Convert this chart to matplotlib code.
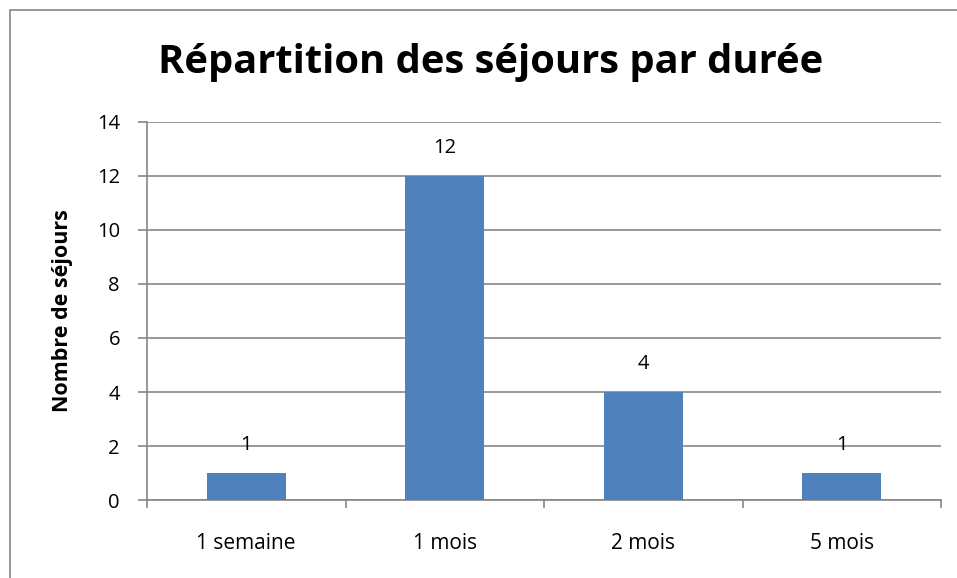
import matplotlib
matplotlib.use("Agg")
import matplotlib.pyplot as plt
from matplotlib.patches import Rectangle

plt.rcParams['font.family'] = ['Open Sans', 'DejaVu Sans']

# Data
durees = ['1 semaine', '1 mois', '2 mois', '5 mois']
sejours = [1, 12, 4, 1]
yticks = [0, 2, 4, 6, 8, 10, 12, 14]

bar_color = '#4F81BD'
grid_color = '#868686'

fig = plt.figure(figsize=(9.57, 5.78), dpi=100)

# outer frame of the chart
frame = Rectangle((10/957, -0.05), 1.0, 1.05 - 10/578, transform=fig.transFigure,
                  fill=False, edgecolor=grid_color, linewidth=1.2)
fig.patches.append(frame)

ax = fig.add_axes([147/957, 78/578, 794/957, 378/578])

x = range(len(durees))
bars = ax.bar(x, sejours, width=0.4, color=bar_color, zorder=3)

for xi, v in zip(x, sejours):
    ax.annotate(str(v), (xi, v), xytext=(0, 20), textcoords='offset points',
                ha='center', va='center', fontsize=14.5)

ax.set_xlim(-0.5, len(durees) - 0.5)
ax.set_ylim(0, 14)
ax.set_yticks(yticks)
ax.set_xticks(x)
ax.set_xticklabels(durees, fontsize=15)
ax.set_xticks([i - 0.5 for i in range(len(durees) + 1)], minor=True)
ax.tick_params(axis='x', which='major', length=0, pad=24)
ax.tick_params(axis='x', which='minor', length=6, color=grid_color, width=1.2)
ax.tick_params(axis='y', length=6.5, color=grid_color, width=1.2, labelsize=14.5, pad=13)

ax.yaxis.grid(True, color=grid_color, linewidth=1.2, zorder=0)
for s in ['top', 'right']:
    ax.spines[s].set_visible(False)
for s in ['left', 'bottom']:
    ax.spines[s].set_color(grid_color)
    ax.spines[s].set_linewidth(1.2)

ax.set_ylabel('Nombre de séjours', fontsize=15.5, fontweight='bold')
ax.yaxis.set_label_coords(-0.093, 0.5)

fig.text(491/957, 1 - 62/578, 'Répartition des séjours par durée', ha='center', va='center',
         fontsize=28.7, fontweight='bold')

fig.savefig('out.png', dpi=100)
